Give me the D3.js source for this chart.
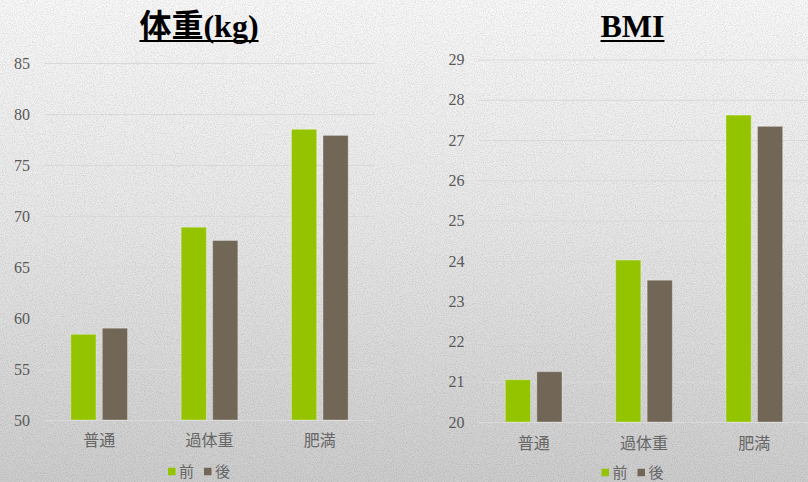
<!DOCTYPE html>
<meta charset="utf-8">
<style>
    body { margin: 0; }
    svg { display: block; }
    .tick line { stroke: #d9d9d9; }
    .title { font-family: "Liberation Serif", "Noto Sans CJK JP", serif; font-weight: bold; font-size: 32px; fill: #000; }
    .ylab { font-family: "Liberation Serif", "Times New Roman", serif; font-size: 16px; fill: #595959; }
    .cjk { font-family: "Noto Sans CJK JP", sans-serif; font-size: 16px; fill: #666; }
</style>
<svg width="808" height="482"></svg>
<script src="https://d3js.org/d3.v7.min.js"></script>
<script>

    var svg = d3.select("svg"),
            width = +svg.attr("width"),
            height = +svg.attr("height");

    // data
    var categories = ["普通", "過体重", "肥満"];
    var seriesNames = ["前", "後"];
    var weightBefore = [58.4, 68.9, 78.5];
    var weightAfter = [59.0, 67.6, 77.9];
    var bmiBefore = [21.05, 24.02, 27.62];
    var bmiAfter = [21.25, 23.52, 27.34];
    var weightTicks = [50, 55, 60, 65, 70, 75, 80, 85];
    var bmiTicks = [20, 21, 22, 23, 24, 25, 26, 27, 28, 29];

    var colors = ["#94c400", "#726756"];

    // background
    var defs = svg.append("defs");
    var grad = defs.append("linearGradient")
            .attr("id", "bg").attr("x1", 0).attr("y1", 0).attr("x2", 0).attr("y2", 1);
    grad.append("stop").attr("offset", "0%").attr("stop-color", "#f8f8f8");
    grad.append("stop").attr("offset", "45%").attr("stop-color", "#e8e8e8");
    grad.append("stop").attr("offset", "100%").attr("stop-color", "#cdcdcd");

    var noise = defs.append("filter").attr("id", "paper");
    noise.append("feTurbulence")
            .attr("type", "fractalNoise")
            .attr("baseFrequency", 0.9)
            .attr("numOctaves", 2)
            .attr("seed", 3);
    noise.append("feColorMatrix")
            .attr("type", "matrix")
            .attr("values", "0 0 0 0 0  0 0 0 0 0  0 0 0 0 0  0 0 0 -0.9 0.55");

    svg.append("rect").attr("width", width).attr("height", height).attr("fill", "url(#bg)");
    svg.append("rect").attr("width", width).attr("height", height)
            .attr("filter", "url(#paper)").attr("opacity", 0.25);

    function drawChart(cfg) {
        var g = svg.append("g");

        var x0 = d3.scaleBand()
                .domain(categories)
                .range([cfg.left, cfg.right]);

        var half = 28.35;
        var x1 = d3.scaleBand()
                .domain(seriesNames)
                .range([x0.bandwidth() / 2 - half, x0.bandwidth() / 2 + half])
                .paddingInner(0.2);

        var y = d3.scaleLinear()
                .domain(cfg.domain)
                .range([cfg.bottom, cfg.top]);

        // gridlines + tick labels
        g.append("g")
                .attr("transform", "translate(" + cfg.left + ",0)")
                .call(d3.axisLeft(y)
                        .tickValues(cfg.ticks)
                        .tickSize(-(cfg.gridRight - cfg.left))
                        .tickPadding(14))
                .call(function(s) {
                    s.select(".domain").remove();
                    s.attr("font-family", null).attr("font-size", null);
                    s.selectAll("text").attr("class", "ylab");
                });

        var rows = categories.map(function(c, i) {
            return { cat: c, values: [cfg.before[i], cfg.after[i]] };
        });

        var group = g.append("g").selectAll("g")
                .data(rows)
                .enter().append("g")
                .attr("transform", function(d) { return "translate(" + x0(d.cat) + ",0)"; });

        group.selectAll("rect")
                .data(function(d) { return d.values.map(function(v, j) { return { key: seriesNames[j], value: v, idx: j }; }); })
                .enter().append("rect")
                .attr("x", function(d) { return x1(d.key); })
                .attr("width", x1.bandwidth())
                .attr("y", function(d) { return y(d.value); })
                .attr("height", function(d) { return y(cfg.domain[0]) - y(d.value); })
                .attr("fill", function(d) { return colors[d.idx]; })
                .attr("stroke", "rgba(255,255,255,0.3)")
                .attr("stroke-width", 1);

        // category labels
        g.append("g")
                .attr("transform", "translate(0," + cfg.bottom + ")")
                .call(d3.axisBottom(x0).tickSize(0))
                .call(function(s) {
                    s.select(".domain").remove();
                    s.attr("font-family", null).attr("font-size", null);
                    s.selectAll("text")
                            .attr("class", "cjk")
                            .attr("y", cfg.labelOffset).attr("dy", "0.35em");
                });

        // title with underline
        var title = g.append("text")
                .attr("class", "title")
                .attr("x", cfg.cx)
                .attr("y", 37)
                .attr("text-anchor", "middle")
                .text(cfg.title);
        var tw = title.node().getComputedTextLength();
        g.append("rect")
                .attr("x", cfg.cx - tw / 2)
                .attr("y", 40)
                .attr("width", tw)
                .attr("height", 2)
                .attr("fill", "#000");

        // legend
        var legend = g.append("g")
                .attr("transform", "translate(" + (cfg.cx - 31) + "," + cfg.legendY + ")");
        var item = legend.selectAll("g")
                .data(seriesNames)
                .enter().append("g")
                .attr("transform", function(d, i) { return "translate(" + (i * 36) + ",0)"; });
        item.append("rect")
                .attr("x", 0).attr("y", -3.75)
                .attr("width", 7.5).attr("height", 7.5)
                .attr("fill", function(d, i) { return colors[i]; });
        item.append("text")
                .attr("class", "cjk")
                .attr("x", 11).attr("dy", "0.35em")
                .style("font-size", "15px")
                .text(function(d) { return d; });
    }

    drawChart({
        title: "体重(kg)",
        cx: 199,
        left: 44, right: 375, gridRight: 375,
        top: 63, bottom: 420,
        domain: [50, 85],
        ticks: weightTicks,
        before: weightBefore,
        after: weightAfter,
        labelOffset: 20.5,
        legendY: 471.5
    });

    drawChart({
        title: "BMI",
        cx: 632.5,
        left: 478.5, right: 809.5, gridRight: 808,
        top: 59.5, bottom: 422,
        domain: [20, 29],
        ticks: bmiTicks,
        before: bmiBefore,
        after: bmiAfter,
        labelOffset: 21.5,
        legendY: 472.5
    });

</script>
